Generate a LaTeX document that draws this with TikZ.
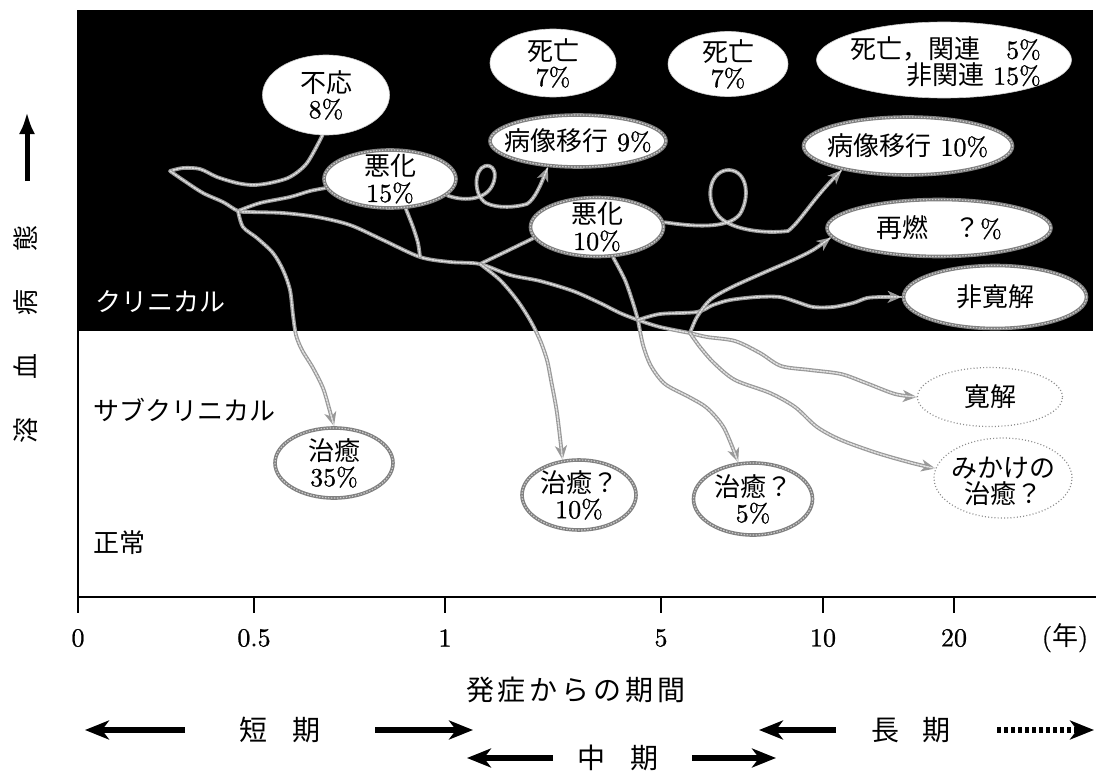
\documentclass[tikz,border=0pt]{standalone}
\usepackage{fontspec}
\setmainfont{lmroman10-regular.otf}[FakeBold=0.9]
\newfontfamily\jp{Noto Sans CJK JP}
\usetikzlibrary{arrows.meta,shapes.geometric,backgrounds}
\begin{document}
\begin{tikzpicture}[x=1pt,y=-1pt,
 rope/.style={draw=black!40, line width=3.8pt, line cap=round, line join=round,
   postaction={draw=white!88!black, line width=1.5pt, dash pattern=on 1.8pt off 1.4pt, arrows=-}},
 tipped/.style={-{Stealth[length=14pt,width=12pt,inset=4pt]}},
 blob/.style={ellipse, fill=white, draw=black!20, line width=0.6pt, inner sep=0pt},
 rim/.style={ellipse, fill=white, draw=black!50, line width=3.6pt, inner sep=0pt,
   postaction={draw=white!80!black, line width=1.2pt, dash pattern=on 1.5pt off 1.5pt}},
 faint/.style={ellipse, draw=black!45, line width=1.2pt, dash pattern=on 1pt off 2.2pt, inner sep=0pt},
 txt/.style={font=\fontsize{26}{26}\selectfont, align=center, inner sep=0pt},
 zone/.style={font=\jp\fontsize{26}{26}\selectfont, anchor=west, inner sep=0pt},
 ticklab/.style={font=\fontsize{26}{26}\selectfont, inner sep=0pt},
 axisline/.style={line width=1.6pt},
 big/.style={line width=6pt, -{Stealth[length=24pt,width=19pt,inset=7pt]}},
 period/.style={font=\jp\fontsize{28}{28}\selectfont, inner sep=0pt},
]
\path[use as bounding box] (0,0) rectangle (1096,779);

% ---------- ellipses ----------
\node[blob, minimum width=127pt, minimum height=80pt] (fy) at (326,95) {};
\node[txt] (fyt) at (fy) {{\jp 不応}\\8\%};
\node[blob, minimum width=126pt, minimum height=68pt] (d1) at (553,63) {};
\node[txt] (d1t) at (d1) {{\jp 死亡}\\7\%};
\node[blob, minimum width=120pt, minimum height=65pt] (d2) at (728,64) {};
\node[txt] (d2t) at (d2) {{\jp 死亡}\\7\%};
\node[blob, minimum width=255pt, minimum height=76pt] (d3) at (944,60) {};
\node[txt, align=right, anchor=east] (d3t) at (1041,62) {{\jp 死亡，関連}\quad 5\%\\{\jp 非関連}~15\%};

\node[rim, minimum width=176pt, minimum height=52pt] (p9) at (578,141) {};
\node[txt] (p9t) at (p9) {{\jp 病像移行}~9\%};
\node[rim, minimum width=209pt, minimum height=58pt] (p10) at (908,146) {};
\node[txt] (p10t) at (p10) {{\jp 病像移行}~10\%};
\node[rim, minimum width=132pt, minimum height=58pt] (w15) at (390,179) {};
\node[txt] (w15t) at (w15) {{\jp 悪化}\\15\%};
\node[rim, minimum width=133pt, minimum height=59pt] (w10) at (597,227) {};
\node[txt] (w10t) at (w10) {{\jp 悪化}\\10\%};
\node[rim, minimum width=224pt, minimum height=57pt] (sn) at (939,228) {};
\node[txt] (snt) at (sn) {{\jp 再燃\quad ？}\%};
\node[rim, minimum width=183pt, minimum height=63pt] (nk) at (995,297) {};
\node[txt] (nkt) at (nk) {\jp 非寛解};

\node[faint, minimum width=145pt, minimum height=59pt] (kk) at (990,397) {};
\node[txt] (kkt) at (kk) {\jp 寛解};
\node[faint, minimum width=138pt, minimum height=80pt] (mk) at (1003,478) {};
\node[txt] (mkt) at (1003,481) {\jp みかけの\\\jp 治癒？};

\node[rim, minimum width=118pt, minimum height=70pt] (c35) at (334,463) {};
\node[txt] (c35t) at (c35) {{\jp 治癒}\\35\%};
\node[rim, minimum width=114pt, minimum height=70pt] (c10) at (579,495) {};
\node[txt] (c10t) at (c10) {{\jp 治癒？}\\10\%};
\node[rim, minimum width=119pt, minimum height=72pt] (c5) at (753,499) {};
\node[txt] (c5t) at (c5) {{\jp 治癒？}\\5\%};

% ---------- zone labels ----------
\node[zone, text=white] (zc) at (95,302) {クリニカル};
\node[zone] (zs) at (93,410) {サブクリニカル};
\node[zone] (zn) at (93,543) {正常};

% ---------- junctions ----------
\coordinate (S) at (170,171);
\coordinate (J1) at (238,211);
\coordinate (J2) at (420,257);
\coordinate (J3) at (480,264);
\coordinate (J4) at (638,320);
\coordinate (J5) at (690,333);

\begin{scope}[on background layer]
\fill[black] (78,10) rectangle (1093,331);
% to 不応
\draw[rope] plot[smooth] coordinates {(S) (183,168) (200,169) (217,177) (237,183) (253,185) (270,183) (290,177) (307,163) (fy.-95)};
% trunk
\draw[rope] plot[smooth] coordinates {(S) (183,180) (203,193) (223,202) (J1) (250,212) (283,213) (317,217) (350,225) (383,240) (J2) (450,262) (J3) (510,275) (540,281) (573,291) (600,303) (620,313) (J4) (660,327) (J5)};
% to 悪化15%
\draw[rope] plot[smooth] coordinates {(J1) (260,203) (290,197) (310,191) (w15.-172)};
% to 治癒35%
\draw[rope,tipped] plot[smooth] coordinates {(J1) (243,227) (257,238) (273,253) (283,270) (290,290) (293,315) (296,335) (302,350) (313,368) (323,388) (329,408) (c35.north)};
% 悪化15% down to trunk
\draw[rope] plot[smooth] coordinates {(w15.-62) (413,227) (418,243) (J2)};
% to 悪化10%
\draw[rope] plot[smooth] coordinates {(J3) (505,252) (w10.-170)};
% to 治癒?10%
\draw[rope,tipped] plot[smooth] coordinates {(J3) (500,280) (517,300) (530,320) (540,340) (547,360) (551,380) (557,413) (c10.115)};
% 悪化10% down
\draw[rope] plot[smooth] coordinates {(w10.-62) (625,280) (633,303) (J4)};
% to 治癒?5%
\draw[rope,tipped] plot[smooth] coordinates {(J4) (643,345) (651,366) (665,384) (689,397) (707,408) (724,428) (c5.112)};
% to 非寛解
\draw[rope,tipped] plot[smooth] coordinates {(J4) (660,314) (697,312) (713,305) (730,300) (757,297) (780,297) (797,302) (813,307) (833,307) (853,303) (867,298) (882,297) (nk.west)};
% to 再燃
\draw[rope,tipped] plot[smooth] coordinates {(J5) (697,317) (710,300) (730,288) (763,273) (793,260) (813,250) (sn.-175)};
% to 寛解
\draw[rope,tipped] plot[smooth] coordinates {(J5) (707,337) (735,341) (760,353) (781,366) (810,370) (841,374) (866,383) (895,394) (kk.west)};
% to みかけの治癒
\draw[rope,tipped] plot[smooth] coordinates {(J5) (700,347) (714,363) (735,380) (770,393) (795,407) (817,427) (841,440) (877,453) (912,463) (mk.172)};
% loops
\draw[rope,tipped] (w15.-16) .. controls (462,201) and (484,201) .. (492,186)
  .. controls (499,172) and (492,164) .. (485,166)
  .. controls (474,169) and (473,195) .. (486,203)
  .. controls (498,209) and (517,207) .. (527,204)
  .. controls (535,199) and (541,184) .. (p9.-139);
\draw[rope,tipped] (w10.4) .. controls (690,226) and (728,230) .. (740,214)
  .. controls (750,198) and (748,171) .. (729,170)
  .. controls (711,170) and (704,196) .. (717,214)
  .. controls (728,230) and (765,234) .. (788,231)
  .. controls (800,222) and (812,200) .. (p10.-160);
\end{scope}

% ---------- axes ----------
\coordinate (tl) at (78,10);
\coordinate (o) at (78,597);
\coordinate (xe) at (1096,597);
\draw[axisline] (tl) -- (o) -- (xe);
\foreach \x/\l/\n in {78/0/t0, 254/0.5/t1, 445/1/t2, 661/5/t3, 823/10/t4, 954/20/t5} {
  \draw[axisline] (\x,597) -- (\x,613);
  \node[ticklab] (\n) at (\x,638) {\l};
}
\node[ticklab] (tyr) at (1065,638) {({\jp 年})};

% ---------- y label ----------
\coordinate (ua) at (27,181);
\coordinate (ub) at (27,112);
\draw[line width=5pt, -{Latex[length=22pt,width=16pt]}] (ua) -- (ub);
\node[font=\jp\fontsize{26}{26}\selectfont, rotate=90, inner sep=0pt] (ylab) at (26,334) {溶\hspace{38pt}血\hspace{38pt}病\hspace{38pt}態};

% ---------- x label and periods ----------
\node[period] (xlab) at (576,690) {発\hspace{4pt}症\hspace{4pt}か\hspace{4pt}ら\hspace{4pt}の\hspace{4pt}期\hspace{4pt}間};

\coordinate (a1s) at (185,730); \coordinate (a1e) at (85,730);
\coordinate (a2s) at (375,730); \coordinate (a2e) at (473,730);
\coordinate (a3s) at (553,758); \coordinate (a3e) at (467,758);
\coordinate (a4s) at (692,758); \coordinate (a4e) at (776,758);
\coordinate (a5s) at (836,730); \coordinate (a5e) at (759,730);
\coordinate (a6s) at (997,730); \coordinate (a6e) at (1094,730);
\draw[big] (a1s) -- (a1e);
\draw[big] (a2s) -- (a2e);
\draw[big] (a3s) -- (a3e);
\draw[big] (a4s) -- (a4e);
\draw[big] (a5s) -- (a5e);
\draw[big, dash pattern=on 4pt off 3pt] (a6s) -- (a6e);
\node[period] (short) at (280,730) {短\hspace{25pt}期};
\node[period] (mid) at (618,758) {中\hspace{26pt}期};
\node[period] (long) at (911,730) {長\hspace{23pt}期};
\end{tikzpicture}
\end{document}
